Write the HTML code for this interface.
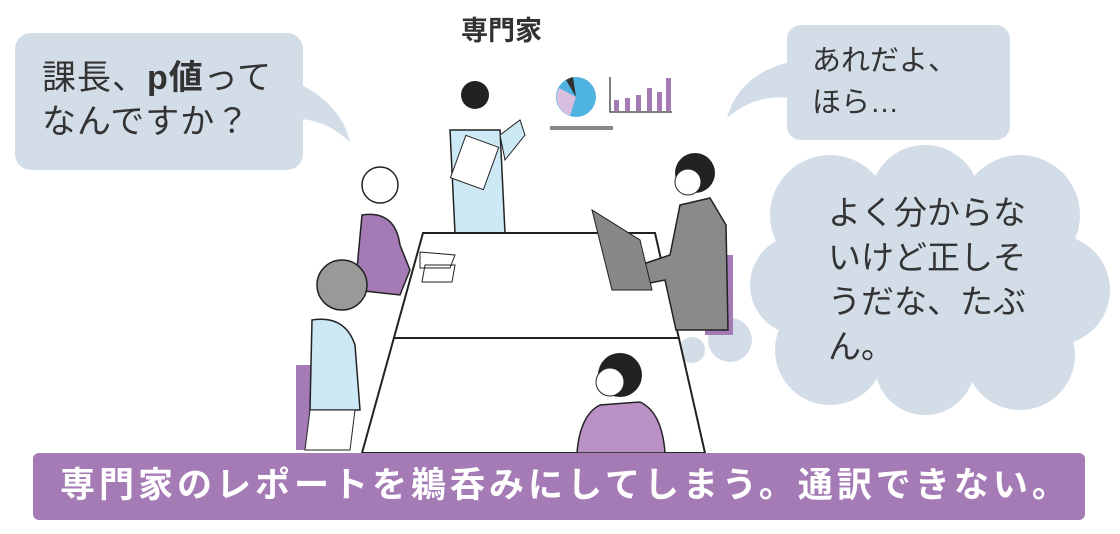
<!DOCTYPE html>
<html><head><meta charset="utf-8"><style>
html,body{margin:0;padding:0;background:#fff;}
body{width:1120px;height:534px;overflow:hidden;position:relative;font-family:"Liberation Sans","Noto Sans CJK JP",sans-serif;}
.t{position:absolute;color:#333;font-size:30px;line-height:44px;white-space:nowrap;}
</style></head><body>
<svg width="1120" height="534" style="position:absolute;left:0;top:0">
<rect x="15" y="33" width="288" height="137" rx="16" fill="#d3dde8"/>
<path d="M290 80 Q340 100 350 142 Q320 115 290 120 Z" fill="#d3dde8"/>
<rect x="787" y="25" width="223" height="115" rx="14" fill="#d3dde8"/>
<path d="M800 60 Q740 70 727 118 Q760 90 800 100 Z" fill="#d3dde8"/>
<g fill="#d3dde8">
<circle cx="830" cy="215" r="60"/><circle cx="925" cy="200" r="55"/><circle cx="1020" cy="215" r="60"/>
<circle cx="1055" cy="290" r="55"/><circle cx="1020" cy="355" r="55"/><circle cx="925" cy="365" r="50"/>
<circle cx="830" cy="350" r="55"/><circle cx="800" cy="285" r="50"/><rect x="800" y="210" width="250" height="150"/>
</g>
<circle cx="730" cy="340" r="22" fill="#d3dde8"/><circle cx="692" cy="350" r="13" fill="#d3dde8"/><circle cx="664" cy="360" r="7" fill="#d3dde8"/>
<circle cx="576" cy="97" r="20" fill="#4fb3e0"/>
<path d="M576 97 L559 88 A20 20 0 0 0 570 116 Z" fill="#d9bfdf"/>
<path d="M576 97 L566 80 A20 20 0 0 1 573 77 Z" fill="#333"/>
<rect x="550" y="126" width="63" height="4" fill="#888"/>
<path d="M610 77 V112 H672" stroke="#555" fill="none" stroke-width="1.5"/>
<g fill="#a57bb5"><rect x="614" y="100" width="5" height="11"/><rect x="625" y="98" width="5" height="13"/><rect x="636" y="95" width="5" height="16"/><rect x="647" y="88" width="5" height="23"/><rect x="657" y="92" width="5" height="19"/><rect x="666" y="78" width="5" height="33"/></g>
<rect x="296" y="365" width="18" height="85" fill="#a57bb5"/>
<rect x="705" y="255" width="28" height="80" fill="#a57bb5"/>
<circle cx="475" cy="95" r="14" fill="#222"/>
<path d="M450 130 L500 130 L505 233 L455 233 Z" fill="#cde9f5" stroke="#222" stroke-width="1.5"/>
<path d="M500 135 L520 120 L525 135 L505 160 Z" fill="#cde9f5" stroke="#222"/>
<rect x="458" y="140" width="35" height="45" fill="#fff" stroke="#222" transform="rotate(20 475 160)"/>
<path d="M423 233 L655 233 L705 453 L362 453 Z" fill="#fff" stroke="#222" stroke-width="2"/>
<line x1="393" y1="338" x2="679" y2="338" stroke="#222" stroke-width="2"/>
<path d="M362 215 Q395 210 400 245 L410 270 L400 295 L355 290 Z" fill="#a57bb5" stroke="#222" stroke-width="1.5"/>
<circle cx="380" cy="185" r="18" fill="#fff" stroke="#222" stroke-width="1.5"/>
<path d="M420 252 L455 255 L450 268 L420 268 Z M425 265 L455 265 L452 282 L422 282 Z" fill="#fff" stroke="#222"/>
<circle cx="342" cy="285" r="25" fill="#999" stroke="#222" stroke-width="1.5"/>
<path d="M312 320 Q345 315 355 345 L360 410 L310 410 Z" fill="#cde9f5" stroke="#222" stroke-width="1.5"/>
<path d="M310 410 L355 410 L350 450 L305 450 Z" fill="#fff" stroke="#222"/>
<circle cx="695" cy="173" r="20" fill="#222"/>
<circle cx="688" cy="182" r="13" fill="#fff" stroke="#222"/>
<path d="M680 205 L710 198 L726 225 L728 330 L676 330 L665 280 L640 285 L640 265 L670 255 Z" fill="#8a8a8a" stroke="#222" stroke-width="1.5"/>
<path d="M592 210 L612 290 L652 290 L640 240 Z" fill="#888" stroke="#222"/>
<circle cx="620" cy="375" r="22" fill="#222"/>
<circle cx="610" cy="382" r="14" fill="#fff" stroke="#222"/>
<path d="M577 453 Q580 415 600 405 L640 402 Q662 412 665 453 Z" fill="#b991c4" stroke="#222" stroke-width="1.5"/>
<rect x="33" y="453" width="1052" height="67" rx="6" fill="#a57bb5"/>
</svg>
<div class="t" style="left:42px;top:56px;font-size:34px;letter-spacing:1px">課長、<b>p値</b>って</div>
<div class="t" style="left:42px;top:100px;font-size:34px;letter-spacing:1px">なんですか？</div>
<div class="t" style="left:461px;top:14px;font-size:27px;font-weight:bold;line-height:34px">専門家</div>
<div class="t" style="left:812px;top:40px;font-size:29px;line-height:42px">あれだよ、<br>ほら…</div>
<div class="t" style="left:828px;top:191px;font-size:33px;line-height:44.5px">よく分からな<br>いけど正しそ<br>うだな、たぶ<br>ん。</div>
<div class="t" style="left:60px;top:464px;color:#fff;font-weight:bold;font-size:35px;letter-spacing:4px">専門家のレポートを鵜呑みにしてしまう。通訳できない。</div>
</body></html>
